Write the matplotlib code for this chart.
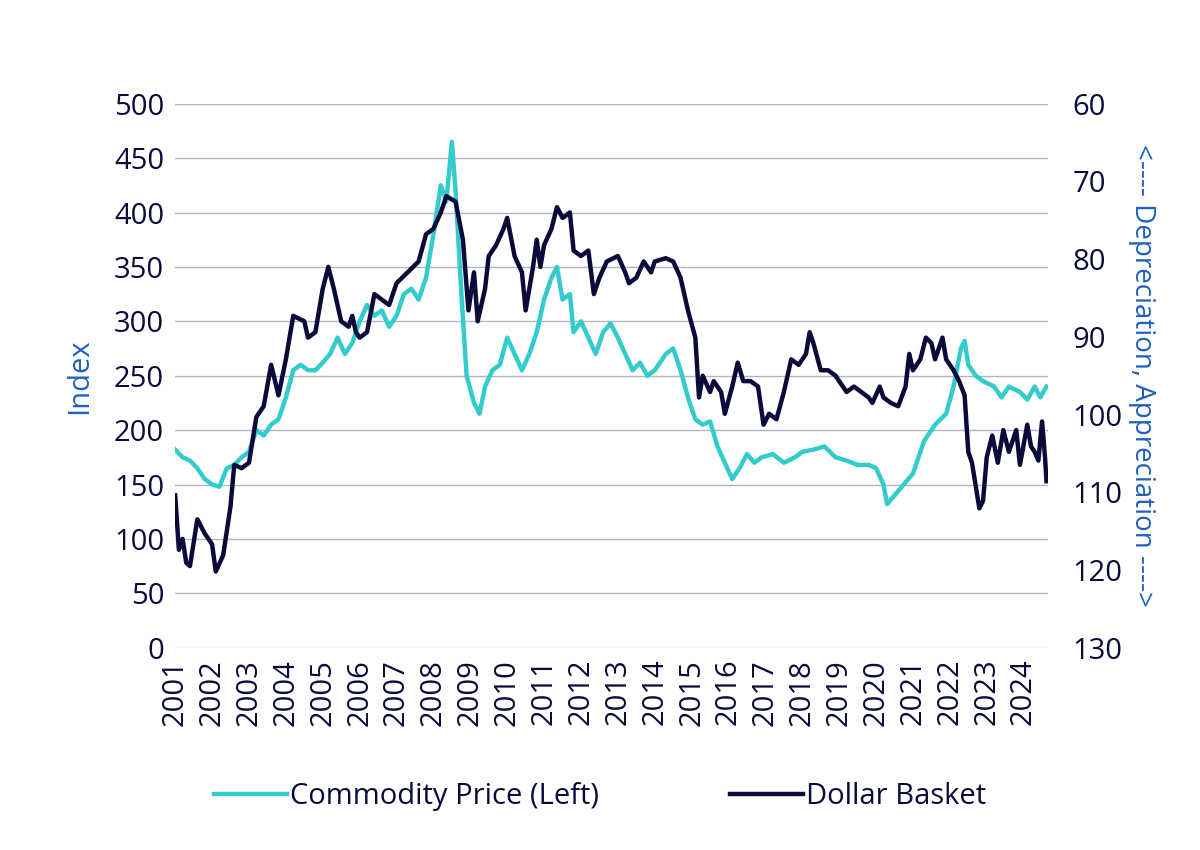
import matplotlib
matplotlib.use("Agg")
import matplotlib.pyplot as plt
import numpy as np

plt.rcParams['font.family'] = ['Open Sans', 'DejaVu Sans']

# Commodity price (left axis), fractional-year time
comm_t = [2001.0,2001.2,2001.4,2001.6,2001.8,2002.0,2002.2,2002.4,2002.6,2002.8,2003.0,2003.2,2003.4,2003.6,2003.8,
          2004.0,2004.2,2004.4,2004.6,2004.8,2005.0,2005.2,2005.4,2005.6,2005.8,2006.0,2006.2,2006.4,2006.6,2006.8,
          2007.0,2007.2,2007.4,2007.6,2007.8,2008.0,2008.2,2008.35,2008.5,2008.6,2008.75,2008.9,2009.1,2009.25,2009.4,
          2009.6,2009.8,2010.0,2010.2,2010.4,2010.6,2010.8,2011.0,2011.2,2011.35,2011.5,2011.7,2011.8,2012.0,2012.2,
          2012.4,2012.6,2012.8,2013.0,2013.2,2013.4,2013.6,2013.8,2014.0,2014.3,2014.5,2014.7,2014.9,2015.1,2015.3,
          2015.5,2015.7,2015.9,2016.1,2016.3,2016.5,2016.7,2016.9,2017.2,2017.5,2017.8,2018.0,2018.3,2018.6,2018.9,
          2019.2,2019.5,2019.8,2020.0,2020.2,2020.3,2020.5,2020.8,2021.0,2021.3,2021.6,2021.9,2022.1,2022.3,2022.4,
          2022.5,2022.7,2022.9,2023.2,2023.4,2023.6,2023.9,2024.1,2024.3,2024.45,2024.62]
comm_v = [182,175,172,165,155,150,148,165,168,175,180,200,195,205,210,
          230,255,260,255,255,262,270,285,270,280,300,315,305,310,295,
          305,325,330,320,340,380,425,410,465,420,330,250,225,215,240,
          255,260,285,270,255,270,290,320,340,350,320,325,290,300,285,
          270,290,298,285,270,255,262,250,255,270,275,255,230,210,205,
          208,185,170,155,165,178,170,175,178,170,175,180,182,185,175,
          172,168,168,165,150,132,140,152,160,190,205,215,240,275,282,
          260,250,245,240,230,240,235,228,240,230,240]

# Dollar basket, read against the left scale (converted to right-axis index below)
usd_t = [2001.0,2001.1,2001.2,2001.3,2001.4,2001.6,2001.8,2002.0,2002.1,2002.3,2002.5,2002.6,2002.8,2003.0,2003.2,
         2003.4,2003.6,2003.8,2004.0,2004.2,2004.5,2004.6,2004.8,2005.0,2005.15,2005.3,2005.5,2005.7,2005.8,2005.9,
         2006.0,2006.2,2006.4,2006.6,2006.8,2007.0,2007.3,2007.6,2007.8,2008.0,2008.2,2008.35,2008.6,2008.8,2008.95,
         2009.1,2009.2,2009.4,2009.5,2009.7,2009.9,2010.0,2010.2,2010.4,2010.5,2010.7,2010.8,2010.9,2011.0,2011.2,
         2011.35,2011.5,2011.7,2011.8,2012.0,2012.2,2012.35,2012.5,2012.7,2013.0,2013.2,2013.3,2013.5,2013.7,2013.9,
         2014.0,2014.3,2014.5,2014.7,2014.9,2015.1,2015.2,2015.3,2015.5,2015.6,2015.8,2015.9,2016.1,2016.25,2016.4,
         2016.6,2016.8,2016.95,2017.1,2017.3,2017.5,2017.7,2017.9,2018.1,2018.2,2018.3,2018.5,2018.7,2018.9,2019.2,
         2019.4,2019.6,2019.8,2019.9,2020.1,2020.2,2020.4,2020.6,2020.8,2020.9,2021.0,2021.2,2021.35,2021.5,2021.6,
         2021.8,2021.9,2022.1,2022.25,2022.4,2022.5,2022.6,2022.8,2022.9,2023.0,2023.15,2023.3,2023.45,2023.6,2023.8,
         2023.9,2024.1,2024.2,2024.3,2024.4,2024.5,2024.58,2024.62]
usd_left = [140,90,100,78,75,118,105,95,70,85,130,168,165,170,212,
            222,260,232,265,305,300,285,290,330,350,330,300,295,305,290,
            285,290,325,320,315,335,345,355,380,385,400,415,410,375,310,
            345,300,330,360,370,385,395,360,345,310,350,375,350,370,385,
            405,395,400,365,360,365,325,340,355,360,345,335,340,355,345,
            355,358,355,340,310,285,230,250,235,245,235,215,240,262,245,
            245,240,205,215,210,235,265,260,270,290,280,255,255,250,235,
            240,235,230,225,240,230,225,222,240,270,255,265,285,280,265,
            285,265,255,245,232,180,170,128,135,175,195,170,200,180,200,
            168,205,185,180,172,208,175,153]
usd_v = [130 - v * 0.14 for v in usd_left]

years = list(range(2001, 2025))
cyan = '#33CCCC'
navy = '#0B0B3B'
blue = '#1F5FBF'

fig = plt.figure(figsize=(12, 8.5), dpi=100)
ax = fig.add_axes([0.146, 0.238, 0.727, 0.64])
ax.plot(comm_t, comm_v, color=cyan, lw=3.2, label='Commodity Price (Left)')
ax.set_ylim(0, 500)
ax.set_yticks(range(0, 501, 50))
ax.set_xlim(2001, 2024.65)
ax.set_xticks(years)
ax.set_xticklabels([str(y) for y in years], rotation=90)
ax.grid(axis='y', color='#AEB6C1', lw=1)
ax.set_axisbelow(True)
for s in ax.spines.values():
    s.set_visible(False)
ax.tick_params(length=0, labelsize=21, colors='#0B0B3B', pad=8)
ax.set_ylabel('Index', color=blue, fontsize=21, labelpad=14)

ax2 = ax.twinx()
ax2.plot(usd_t, usd_v, color=navy, lw=3.2, label='Dollar Basket')
ax2.set_ylim(130, 60)
ax2.set_yticks(range(60, 131, 10))
for s in ax2.spines.values():
    s.set_visible(False)
ax2.tick_params(length=0, labelsize=21, colors='#0B0B3B', pad=18)
ax2.set_ylabel('<---- Depreciation, Appreciation ---->', color=blue, fontsize=20,
               rotation=270, labelpad=24)

h1, l1 = ax.get_legend_handles_labels()
h2, l2 = ax2.get_legend_handles_labels()
fig.legend(h1 + h2, l1 + l2, loc='lower center', bbox_to_anchor=(0.5, 0.015), ncol=2,
           frameon=False, fontsize=21, columnspacing=4.5, handlelength=2.5, handletextpad=0.1,
           labelcolor='#0B0B3B')

fig.savefig('out.png', dpi=100)
